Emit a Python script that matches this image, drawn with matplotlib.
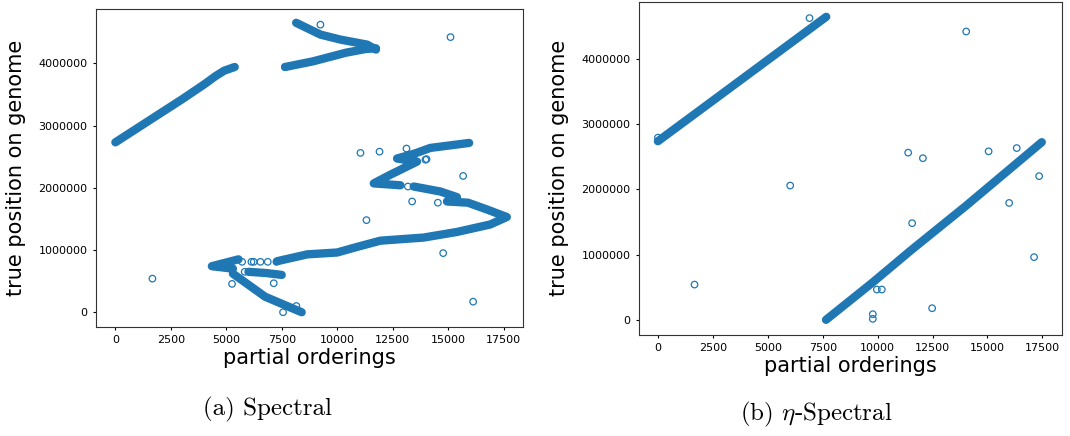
import numpy as np
import matplotlib
matplotlib.use('Agg')
import matplotlib.pyplot as plt

plt.rcParams['mathtext.fontset'] = 'cm'

blue = '#1f77b4'

# ---- (a) Spectral: dense runs of points (x = partial ordering, y = genome position in millions)
spec_runs = [
    ([0, 1000, 2000, 3000, 4000, 4500, 4900, 5380],
     [2.73, 2.96, 3.19, 3.42, 3.66, 3.79, 3.88, 3.94]),
    ([7650, 8900, 10400, 11300, 11750],
     [3.94, 4.03, 4.17, 4.23, 4.24]),
    ([11750, 11350, 10150, 9250, 8150],
     [4.22, 4.30, 4.38, 4.46, 4.65]),
    ([15950, 14200, 13500, 12700, 13600, 12400, 11650, 12850],
     [2.72, 2.64, 2.55, 2.47, 2.42, 2.21, 2.07, 2.04]),
    ([13450, 14650, 15400, 14950, 15900, 16760, 17650, 16900, 15400, 13900,
      11950, 10900, 10000, 8650, 7290],
     [2.02, 1.94, 1.85, 1.78, 1.76, 1.65, 1.53, 1.41, 1.29, 1.20,
      1.15, 1.05, 0.96, 0.93, 0.82]),
    ([5550, 4350, 5300],
     [0.85, 0.74, 0.70]),
    ([5300, 6750, 8400],
     [0.62, 0.25, 0.00]),
    ([6000, 6800, 7500],
     [0.65, 0.63, 0.60]),
]
spec_x = [1670, 5260, 7140, 7560, 8160, 11320, 14780, 16130, 13380, 14540,
          13190, 15680, 11050, 11910, 13125, 14030, 15110, 9245, 5714, 6134,
          6240, 6540, 6870, 7260, 5830, 7650, 11250, 13980]
spec_y = [0.54, 0.456, 0.466, 0.0, 0.10, 1.48, 0.95, 0.17, 1.78, 1.76,
          2.02, 2.19, 2.56, 2.58, 2.63, 2.46, 4.42, 4.62, 0.81, 0.81,
          0.81, 0.81, 0.81, 0.81, 0.65, 3.94, 4.25, 2.45]

# ---- (b) eta-Spectral
eta_runs = [
    ([0, 7660], [2.735, 4.64]),
    ([7650, 9800, 11500, 14000, 17470], [0.0, 0.58, 1.06, 1.74, 2.72]),
]
eta_x = [0, 6900, 14030, 11390, 12060, 15050, 16330, 17350, 6020, 15985,
         11570, 17120, 1666, 9965, 10190, 9780, 9780, 12480]
eta_y = [2.79, 4.62, 4.415, 2.56, 2.475, 2.58, 2.63, 2.20, 2.056, 1.79,
         1.48, 0.96, 0.54, 0.464, 0.464, 0.086, 0.015, 0.178]

fig = plt.figure(figsize=(10.7, 4.36), dpi=100)
ax1 = fig.add_axes([0.0897, 0.2507, 0.399, 0.7287])
ax2 = fig.add_axes([0.5969, 0.2317, 0.3953, 0.7645])

for ax, runs, ox, oy in [(ax1, spec_runs, spec_x, spec_y),
                         (ax2, eta_runs, eta_x, eta_y)]:
    for rx, ry in runs:
        ax.plot(rx, np.array(ry) * 1e6, '-', color=blue, lw=6.0,
                solid_capstyle='round', solid_joinstyle='round')
    ax.scatter(ox, np.array(oy) * 1e6, s=22, facecolors='none',
               edgecolors=blue, linewidths=0.9)
    ax.set_xlim(-875, 18375)
    ax.set_ylim(-232000, 4872000)
    ax.set_xticks([0, 2500, 5000, 7500, 10000, 12500, 15000, 17500])
    ax.set_yticks([0, 1000000, 2000000, 3000000, 4000000])
    ax.ticklabel_format(style='plain', useOffset=False)
    ax.tick_params(labelsize=8, length=2.5, width=0.8)
    ax.set_xlabel('partial orderings', fontsize=15, labelpad=2)
    ax.set_ylabel('true position on genome', fontsize=15, labelpad=9)
    for s in ax.spines.values():
        s.set_linewidth(0.8)
        s.set_color('#333333')

fig.text(0.25, 0.06, '(a) Spectral', fontfamily='cmr10', fontsize=18,
         ha='center', va='center')
fig.text(0.763, 0.05, r'(b) $\eta$-Spectral', fontfamily='cmr10', fontsize=18,
         ha='center', va='center')

fig.savefig('out.png', dpi=100)
